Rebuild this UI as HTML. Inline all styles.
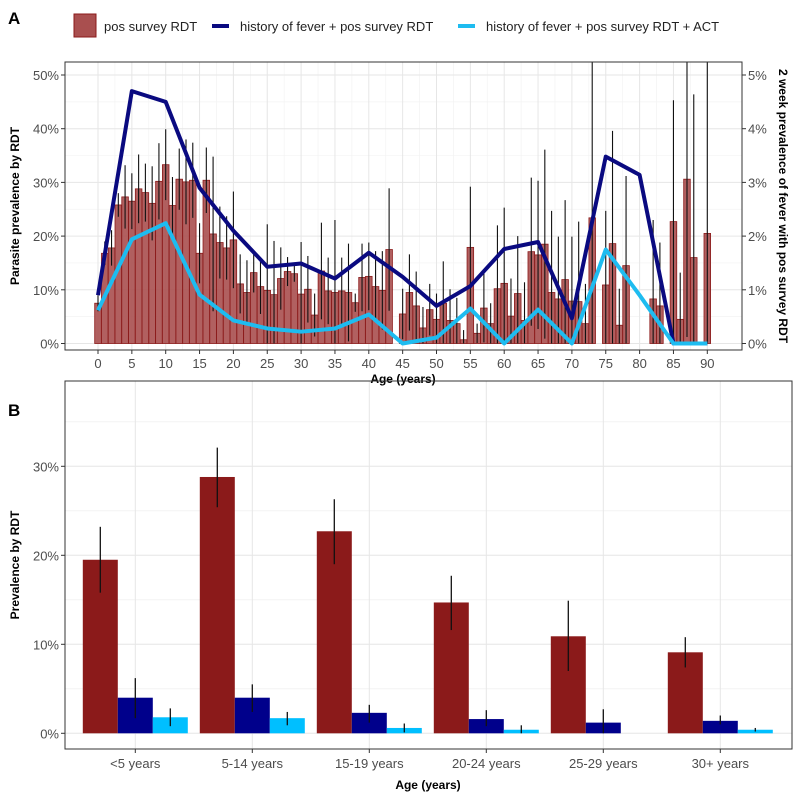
<!DOCTYPE html>
<html><head><meta charset="utf-8"><style>
body{margin:0;background:#fff;}
svg{display:block;font-family:"Liberation Sans",Arial,sans-serif;}
</style></head><body>
<svg id="c" width="797" height="797" viewBox="0 0 797 797"></svg>
<script>
// Panel A data
const ages = Array.from({length:91},(_,i)=>i);
const prevA = [7.5,16.8,17.8,25.8,27.3,26.5,28.8,28.1,26.1,30.2,33.3,25.7,30.6,30.1,30.4,16.8,30.4,20.4,18.8,17.8,19.3,11.1,9.5,13.2,10.6,9.9,9.1,12.1,13.4,13.0,9.2,10.1,5.3,13.5,9.8,9.5,9.8,9.5,7.6,12.3,12.5,10.6,9.9,17.5,0,5.5,9.5,7.0,2.9,6.3,4.5,7.5,4.3,3.7,0.7,17.9,1.9,6.6,3.7,10.2,11.2,5.1,9.3,4.3,17.1,16.5,18.5,9.5,8.3,11.9,7.9,7.8,3.7,23.4,0,10.9,18.6,3.4,14.5,0,0,0,8.3,7.0,0,22.7,4.5,30.6,16.0,0,20.5];
const hiA = [9,19,21.1,28,33.2,31.7,35.2,33.5,33,37.3,39.9,31,36.3,38,37.4,22.4,36.5,34.8,25.5,23.7,28.3,16.6,15.5,16.9,15.7,22.2,19.1,17.9,16.1,14.5,18.9,16.3,9.3,22.5,16,23,16,18.6,9.3,18.6,18.8,17.2,17.2,28.9,0,10.2,16.6,13.4,6.8,11.1,9.3,15.3,10.1,8.5,2.5,29.2,3.7,13,7.5,22,25.3,12.1,20,11.4,30.9,30.3,36.1,24.7,19.9,26.7,19.9,22.7,11.1,60,0,24.7,39.6,10.2,31.2,0,0,0,23,18.8,0,45.3,13.2,60,46.4,0,60];
const lineAges = [0,5,10,15,20,25,30,35,40,45,50,55,60,65,70,75,80,85,90];
const feverPos = [0.9,4.7,4.5,2.9,2.1,1.43,1.49,1.21,1.69,1.24,0.7,1.07,1.76,1.89,0.47,3.48,3.14,0,0];
const feverAct = [0.62,1.94,2.24,0.91,0.43,0.28,0.22,0.28,0.54,0,0.11,0.65,0,0.63,0,1.75,0.9,0,0];
const yTicksA = [0,10,20,30,40,50];
const yTicksA2 = [0,1,2,3,4,5];
const xTicksA = [0,5,10,15,20,25,30,35,40,45,50,55,60,65,70,75,80,85,90];
// Panel B data
const groups = ["<5 years","5-14 years","15-19 years","20-24 years","25-29 years","30+ years"];
const redB = [19.5,28.8,22.7,14.7,10.9,9.1];
const redLo = [15.8,25.4,19.0,11.6,7.0,7.4];
const redHi = [23.2,32.1,26.3,17.7,14.9,10.8];
const blueB = [4.0,4.0,2.3,1.6,1.2,1.4];
const blueLo = [1.7,2.4,1.2,0.8,0,1.0];
const blueHi = [6.2,5.5,3.2,2.6,2.7,2.0];
const cyanB = [1.8,1.7,0.6,0.4,0,0.4];
const cyanLo = [0.8,0.9,0.1,0,0,0.2];
const cyanHi = [2.8,2.4,1.1,0.9,0,0.6];
const yTicksB = [0,10,20,30];

const S=document.getElementById('c'),NS='http://www.w3.org/2000/svg';
function el(t,a,p){const e=document.createElementNS(NS,t);for(const k in a)e.setAttribute(k,a[k]);(p||S).appendChild(e);return e;}
function tx(x,y,s,a){const e=el('text',Object.assign({x:x,y:y},a));e.textContent=s;return e;}

// ---- Panel A ----
const AL=65,AR=742,AT=62,AB=350;
const ax=v=>98+v*6.77, ay=v=>343.5-v*5.37, ay2=v=>343.5-v*53.7;
for(let v=2.5;v<=90;v+=5){const g=el('line',{x1:ax(v),x2:ax(v),y1:AT,y2:AB,stroke:'#f3f3f3','stroke-width':0.7});}
for(let v=5;v<=50;v+=10){const g=el('line',{x1:AL,x2:AR,y1:ay(v),y2:ay(v),stroke:'#f3f3f3','stroke-width':0.7});}
xTicksA.forEach(v=>{const g=el('line',{x1:ax(v),x2:ax(v),y1:AT,y2:AB,stroke:'#e6e6e6','stroke-width':1});
 el('line',{x1:ax(v),x2:ax(v),y1:AB,y2:AB+4,stroke:'#333'});
 const t=tx(ax(v),AB+18,v,{'font-size':13,'text-anchor':'middle',fill:'#4d4d4d'});});
yTicksA.forEach(v=>{el('line',{x1:AL,x2:AR,y1:ay(v),y2:ay(v),stroke:'#e6e6e6'});
 el('line',{x1:AL-4,x2:AL,y1:ay(v),y2:ay(v),stroke:'#333'});
 const t=tx(AL-6,ay(v)+5,v+'%',{'font-size':13,'text-anchor':'end',fill:'#4d4d4d'});});
yTicksA2.forEach(v=>{el('line',{x1:AR,x2:AR+4,y1:ay2(v),y2:ay2(v),stroke:'#333'});
 const t=tx(AR+6,ay2(v)+5,v+'%',{'font-size':13,fill:'#4d4d4d'});});
const clipA=el('clipPath',{id:'ca'});el('rect',{x:AL,y:AT,width:AR-AL,height:AB-AT},clipA);
const gA=el('g',{'clip-path':'url(#ca)'});
ages.forEach((a,i)=>{const v=prevA[i];if(v<=0)return;
 const r=el('rect',{x:ax(a)-3.3,y:ay(v),width:6.6,height:ay(0)-ay(v),fill:'#a94f4f','fill-opacity':0.9,stroke:'#8b1a1a','stroke-width':0.8},gA);
 });
ages.forEach((a,i)=>{const v=prevA[i],h=hiA[i];if(v<=0)return;const lo=Math.max(0,2*v-h);
 const l=el('line',{x1:ax(a),x2:ax(a),y1:ay(lo),y2:ay(h),stroke:'#111','stroke-width':1.1},gA);
 });
function poly(arr,col,name){const p=el('polyline',{points:lineAges.map((a,i)=>ax(a)+','+ay2(arr[i])).join(' '),fill:'none',stroke:col,'stroke-width':4,'stroke-linejoin':'round'},gA);}
poly(feverPos,'#0a0a80','line-fever-pos-rdt');
poly(feverAct,'#1ebcf0','line-fever-pos-rdt-act');
el('rect',{x:AL,y:AT,width:AR-AL,height:AB-AT,fill:'none',stroke:'#333','stroke-width':1});
let t;
t=tx(0,0,'Age (years)',{'font-size':12,'font-weight':'bold','text-anchor':'middle',transform:'translate(403,383)'});
t=tx(0,0,'Parasite prevalence by RDT',{'font-size':12,'font-weight':'bold','text-anchor':'middle',transform:'translate(19,206) rotate(-90)'});
t=tx(0,0,'2 week prevalence of fever with pos survey RDT',{'font-size':12,'font-weight':'bold','text-anchor':'middle',transform:'translate(779,206) rotate(90)'});
t=tx(8,24,'A',{'font-size':17,'font-weight':'bold'});
// legend
const lg=el('g',{});
el('rect',{x:74,y:14,width:22,height:23,fill:'#a94f4f',stroke:'#8b1a1a','stroke-width':1},lg);
tx(104,31,'pos survey RDT',{'font-size':13,fill:'#222'},lg);
el('line',{x1:212,x2:229,y1:26,y2:26,stroke:'#0a0a80','stroke-width':4},lg);
tx(240,31,'history of fever + pos survey RDT',{'font-size':13,fill:'#222'},lg);
el('line',{x1:458,x2:475,y1:26,y2:26,stroke:'#1ebcf0','stroke-width':4},lg);
tx(486,31,'history of fever + pos survey RDT + ACT',{'font-size':13,fill:'#222'},lg);

// ---- Panel B ----
const BL=65,BR=792,BT=381,BB=749;
const bx=i=>135.3+i*117, by=v=>733.3-v*8.9;
[5,15,25,35].forEach(v=>el('line',{x1:BL,x2:BR,y1:by(v),y2:by(v),stroke:'#f3f3f3'}));
yTicksB.forEach(v=>{el('line',{x1:BL,x2:BR,y1:by(v),y2:by(v),stroke:'#e6e6e6'});
 el('line',{x1:BL-4,x2:BL,y1:by(v),y2:by(v),stroke:'#333'});
 const t=tx(BL-6,by(v)+5,v+'%',{'font-size':13,'text-anchor':'end',fill:'#4d4d4d'});});
groups.forEach((g,i)=>{el('line',{x1:bx(i),x2:bx(i),y1:BT,y2:BB,stroke:'#e6e6e6'});
 el('line',{x1:bx(i),x2:bx(i),y1:BB,y2:BB+4,stroke:'#333'});
 const t=tx(bx(i),BB+19,g,{'font-size':13,'text-anchor':'middle',fill:'#4d4d4d'});});
const series=[[redB,redLo,redHi,'#8b1a1a',-35,'red'],[blueB,blueLo,blueHi,'#00008b',0,'blue'],[cyanB,cyanLo,cyanHi,'#00bfff',35,'cyan']];
series.forEach(([vals,lo,hi,col,off,nm])=>{vals.forEach((v,i)=>{const cx=bx(i)+off;
 if(v>0){const r=el('rect',{x:cx-17.5,y:by(v),width:35,height:by(0)-by(v),fill:col});}
 if(hi[i]>0){const l=el('line',{x1:cx,x2:cx,y1:by(lo[i]),y2:by(hi[i]),stroke:'#111','stroke-width':1.3});}});});
el('rect',{x:BL,y:BT,width:BR-BL,height:BB-BT,fill:'none',stroke:'#333','stroke-width':1});
t=tx(0,0,'Age (years)',{'font-size':12,'font-weight':'bold','text-anchor':'middle',transform:'translate(428,789)'});
t=tx(0,0,'Prevalence by RDT',{'font-size':12,'font-weight':'bold','text-anchor':'middle',transform:'translate(19,565) rotate(-90)'});
t=tx(8,416,'B',{'font-size':17,'font-weight':'bold'});
</script>
</body></html>
